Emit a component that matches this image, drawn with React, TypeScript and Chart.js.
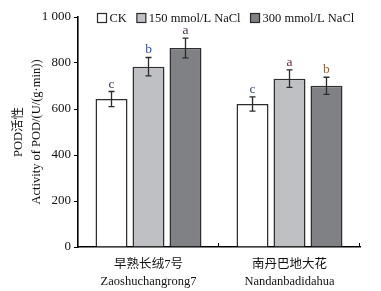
import { useEffect, useRef } from 'react';
import { Chart, registerables } from 'chart.js';

Chart.register(...registerables);

const categories = [
  ['早熟长绒7号', 'Zaoshuchangrong7'],
  ['南丹巴地大花', 'Nandanbadidahua'],
];
const seriesNames = ['CK', '150 mmol/L NaCl', '300 mmol/L NaCl'];
const ckValues = [643, 622];
const nacl150Values = [784, 732];
const nacl300Values = [865, 701];
const ckErrors = [33, 31];
const nacl150Errors = [40, 38];
const nacl300Errors = [43, 37];
const ckLetters = ['c', 'c'];
const nacl150Letters = ['b', 'a'];
const nacl300Letters = ['a', 'b'];
const yTickValues = [0, 200, 400, 600, 800, 1000];
const yTickLabels = ['0', '200', '400', '600', '800', '1 000'];

const fills = ['#ffffff', '#bfc0c4', '#808185'];
const letterColors = [
  ['#3c3c5c', '#3c4a78'],
  ['#2f4fb0', '#6a2a3a'],
  ['#4a3050', '#a8601e'],
];
const SERIF = '"Liberation Serif", "DejaVu Serif", "Noto Sans CJK SC", serif';

const errors = [ckErrors, nacl150Errors, nacl300Errors];
const letters = [ckLetters, nacl150Letters, nacl300Letters];

const overlay = {
  id: 'overlay',
  afterDatasetsDraw(chart: any) {
    const ctx = chart.ctx as CanvasRenderingContext2D;
    const ys = chart.scales.y;
    const xs = chart.scales.x;
    const area = chart.chartArea;
    ctx.save();
    chart.data.datasets.forEach((ds: any, di: number) => {
      const meta = chart.getDatasetMeta(di);
      meta.data.forEach((bar: any, i: number) => {
        const v = ds.data[i];
        const e = errors[di][i];
        const x = bar.x;
        const yTop = ys.getPixelForValue(v + e);
        const yBot = ys.getPixelForValue(v - e);
        ctx.strokeStyle = '#2a2a2a';
        ctx.lineWidth = 1.3;
        ctx.beginPath();
        ctx.moveTo(x, yTop);
        ctx.lineTo(x, yBot);
        ctx.moveTo(x - 3, yTop);
        ctx.lineTo(x + 3, yTop);
        ctx.moveTo(x - 3, yBot);
        ctx.lineTo(x + 3, yBot);
        ctx.stroke();
        ctx.fillStyle = letterColors[di][i];
        ctx.font = '13.5px ' + SERIF;
        ctx.textAlign = 'center';
        ctx.textBaseline = 'alphabetic';
        ctx.fillText(letters[di][i], x, yTop - 4);
      });
    });
    const n = chart.data.labels.length;
    const w = (area.right - area.left) / n;
    ctx.strokeStyle = '#000';
    ctx.lineWidth = 1;
    for (let i = 1; i <= n; i++) {
      const x = Math.round(xs.left + w * i) - 0.5;
      ctx.beginPath();
      ctx.moveTo(x, area.bottom);
      ctx.lineTo(x, area.bottom - 4);
      ctx.stroke();
    }
    ctx.font = '12.5px ' + SERIF;
    ctx.textAlign = 'left';
    ctx.textBaseline = 'middle';
    let lx = 97.5;
    const ly = 18;
    seriesNames.forEach((name, si) => {
      ctx.fillStyle = fills[si];
      ctx.fillRect(lx, ly - 4.5, 9, 9);
      ctx.strokeStyle = '#2a2a2a';
      ctx.lineWidth = 1.2;
      ctx.strokeRect(lx, ly - 4.5, 9, 9);
      ctx.fillStyle = '#111';
      ctx.fillText(name, lx + 12, ly + 0.5);
      lx += 12 + ctx.measureText(name).width + 10;
    });
    ctx.restore();
  },
};

export default function App() {
  const ref = useRef<HTMLCanvasElement | null>(null);
  useEffect(() => {
    document.body.style.margin = '0';
    const canvas = ref.current;
    if (!canvas) return;
    const chart = new Chart(canvas, {
      type: 'bar',
      data: {
        labels: categories as any,
        datasets: [ckValues, nacl150Values, nacl300Values].map((vals, i) => ({
          label: seriesNames[i],
          data: vals,
          backgroundColor: fills[i],
          borderColor: '#2e2e2e',
          borderWidth: 1.5,
          categoryPercentage: 0.787,
          barPercentage: 0.865,
        })),
      },
      options: {
        animation: false,
        responsive: false,
        devicePixelRatio: 1,
        layout: { padding: { left: 0, right: 21, top: 17, bottom: 0 } },
        plugins: {
          legend: { display: false },
          tooltip: { enabled: false },
        },
        scales: {
          x: {
            grid: { display: false },
            border: { display: true, color: '#000', width: 1.6 },
            ticks: {
              color: '#111',
              font: { family: SERIF, size: 12.5, lineHeight: 1.35 },
              padding: 1,
              maxRotation: 0,
              autoSkip: false,
            },
            afterFit: (s: any) => {
              s.height = 44;
            },
          },
          y: {
            min: 0,
            max: 1000,
            afterBuildTicks: (s: any) => {
              s.ticks = yTickValues.map((v) => ({ value: v }));
            },
            grid: {
              display: true,
              drawOnChartArea: false,
              drawTicks: true,
              tickLength: 4,
              color: '#000',
            },
            border: { display: true, color: '#000', width: 1.6 },
            ticks: {
              color: '#111',
              font: { family: SERIF, size: 13 },
              padding: 3,
              callback: (v: any) => {
                const idx = yTickValues.indexOf(Number(v));
                return idx >= 0 ? yTickLabels[idx] : '';
              },
            },
            title: {
              display: true,
              text: ['POD活性', 'Activity of POD/(U/(g·min))'],
              color: '#111',
              font: { family: SERIF, size: 12.5, lineHeight: 1.5 },
              padding: { top: 9, bottom: 0 },
            },
            afterFit: (s: any) => {
              s.width = 78;
            },
          },
        },
      },
      plugins: [overlay],
    });
    return () => chart.destroy();
  }, []);
  return (
    <div style={{ width: 381, height: 291, position: 'relative', background: '#fff' }}>
      <canvas ref={ref} width={381} height={291} style={{ display: 'block' }} />
    </div>
  );
}
